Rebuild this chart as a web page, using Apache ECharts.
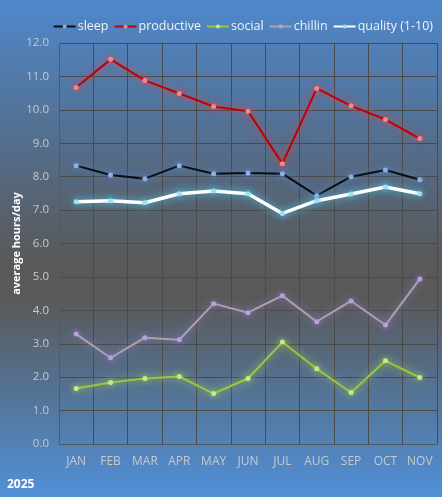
<!DOCTYPE html>
<html>
<head>
<meta charset="utf-8">
<script src="https://cdn.jsdelivr.net/npm/echarts@6/dist/echarts.min.js"></script>
<style>
html,body{margin:0;padding:0;}
#chart{width:442px;height:497px;}
</style>
</head>
<body>
<div id="chart"></div>
<script>
var months = ['JAN','FEB','MAR','APR','MAY','JUN','JUL','AUG','SEP','OCT','NOV'];
var sleep = [8.33, 8.05, 7.94, 8.33, 8.09, 8.11, 8.09, 7.43, 8.0, 8.2, 7.91];
var productive = [10.67, 11.51, 10.88, 10.49, 10.1, 9.96, 8.39, 10.64, 10.12, 9.71, 9.14];
var social = [1.66, 1.84, 1.96, 2.02, 1.51, 1.96, 3.05, 2.25, 1.54, 2.49, 1.99];
var chillin = [3.29, 2.58, 3.18, 3.12, 4.2, 3.93, 4.44, 3.66, 4.28, 3.56, 4.94];
var quality = [7.25, 7.28, 7.22, 7.49, 7.57, 7.49, 6.9, 7.28, 7.48, 7.69, 7.49];

var chart = echarts.init(document.getElementById('chart'), null, {renderer: 'canvas'});
var font = "Open Sans";

function mkSeries(name, data, lineColor, width, dotColor, glow) {
    return {
        name: name,
        type: 'line',
        data: data,
        symbol: 'circle',
        symbolSize: 5,
        showSymbol: true,
        lineStyle: {color: lineColor, width: width, shadowColor: glow, shadowBlur: 8},
        itemStyle: {color: dotColor, borderWidth: 0, shadowColor: glow, shadowBlur: 6},
        emphasis: {disabled: true}
    };
}

var option = {
    backgroundColor: {
        type: 'linear', x: 0, y: 0, x2: 0, y2: 1,
        colorStops: [
            {offset: 0, color: '#4e88cc'},
            {offset: 0.52, color: '#595959'},
            {offset: 0.6, color: '#595959'},
            {offset: 1, color: '#5090d8'}
        ]
    },
    animation: false,
    title: {
        text: '2025',
        left: 2,
        bottom: 1,
        textStyle: {color: '#ffffff', fontFamily: font, fontSize: 12, fontWeight: 'bold'}
    },
    legend: {
        top: 15,
        right: 4,
        itemGap: 5,
        itemWidth: 22,
        itemHeight: 5,
        textStyle: {color: '#f2f2f2', fontFamily: font, fontSize: 12.5, padding: [0, 0, 0, -3]},
        data: ['sleep', 'productive', 'social', 'chillin', 'quality (1-10)']
    },
    grid: {
        left: 59,
        right: 5,
        top: 43,
        bottom: 53,
        outerBoundsMode: 'none'
    },
    xAxis: {
        type: 'category',
        data: months,
        boundaryGap: true,
        axisLine: {lineStyle: {color: '#595959', width: 1}},
        axisTick: {show: false},
        axisLabel: {interval: 0, color: '#c9c9c9', fontFamily: font, fontSize: 12, margin: 12},
        splitLine: {show: true, interval: 0, lineStyle: {color: '#4a4a4a', width: 1}}
    },
    yAxis: {
        type: 'value',
        min: 0,
        max: 12,
        interval: 1,
        name: 'average hours/day',
        nameLocation: 'middle',
        nameGap: 37,
        nameMoveOverlap: false,
        nameTextStyle: {color: '#ffffff', fontFamily: font, fontSize: 11, fontWeight: 'bold'},
        axisLine: {show: true, lineStyle: {color: '#595959'}},
        axisTick: {show: false},
        axisLabel: {
            color: '#c9c9c9', fontFamily: font, fontSize: 11.5, margin: 10,
            formatter: function (v) { return v.toFixed(1); }
        },
        splitLine: {show: true, lineStyle: {color: '#4a4a4a', width: 1}}
    },
    series: [
        mkSeries('sleep', sleep, '#0d0d0d', 2, '#8fb1dc', 'rgba(80,140,230,0.9)'),
        mkSeries('productive', productive, '#c00000', 2, '#f08a8a', 'rgba(255,60,60,0.8)'),
        mkSeries('social', social, '#9bc53d', 2, '#c8e88a', 'rgba(180,240,80,0.8)'),
        mkSeries('chillin', chillin, '#a6a6a6', 2, '#b8a0dc', 'rgba(170,120,230,0.8)'),
        mkSeries('quality (1-10)', quality, '#ffffff', 3.5, '#9fe0ef', 'rgba(80,210,240,0.9)')
    ]
};
chart.setOption(option);
</script>
</body>
</html>
